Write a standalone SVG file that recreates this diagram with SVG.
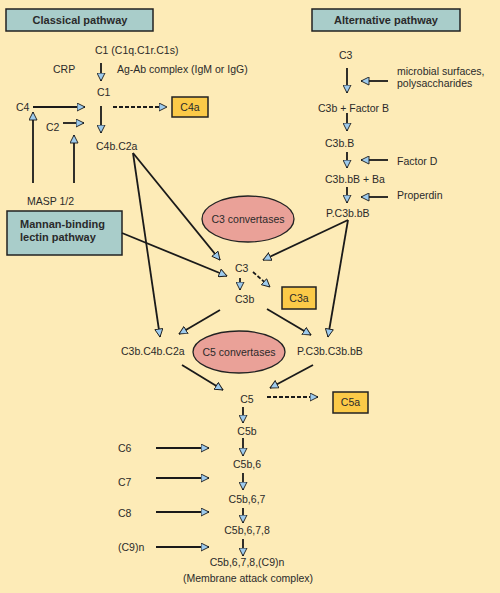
<svg xmlns="http://www.w3.org/2000/svg" width="500" height="593" viewBox="0 0 500 593">
<defs>
<style>
text{font-family:"Liberation Sans","DejaVu Sans",sans-serif;font-size:10.5px;fill:#2a2a2a}
.b{font-weight:bold;font-size:11px}
.m{text-anchor:middle}
.hdr{fill:#a9cdca;stroke:#222;stroke-width:1.5}
.yb{fill:#fbca48;stroke:#222;stroke-width:1.5}
.el{fill:#eaa198;stroke:#222;stroke-width:1.3}
.c line{stroke:#1a1a1a;stroke-width:1.8;marker-end:url(#ah)}
.c line.d{stroke-dasharray:4,2}
</style>
<marker id="ah" viewBox="0 0 9 9" markerUnits="userSpaceOnUse" markerWidth="9" markerHeight="9" refX="8.5" refY="4.5" orient="auto">
<path d="M0.5,0.5 L8.5,4.5 L0.5,8.5 z" fill="#9ecbed" stroke="#1a1a1a" stroke-width="0.9"/>
</marker>
</defs>
<rect width="500" height="593" fill="#fdebb7"/>

<g id="classical-header"><rect class="hdr" x="6" y="9" width="147" height="22"/><text class="b m" x="80" y="24">Classical pathway</text></g>
<g id="alternative-header"><rect class="hdr" x="312" y="9" width="148" height="22"/><text class="b m" x="386" y="24">Alternative pathway</text></g>

<g id="c1q"><text x="95" y="54">C1 (C1q.C1r.C1s)</text></g>
<g id="crp"><text x="53" y="73">CRP</text></g>
<g id="agab"><text x="117" y="73">Ag-Ab complex (IgM or IgG)</text></g>
<g id="c1"><text x="97" y="96">C1</text></g>
<g id="c4"><text x="16" y="111">C4</text></g>
<g id="c2"><text x="46" y="131">C2</text></g>
<g id="c4a"><rect class="yb" x="172" y="97" width="36" height="20"/><text class="m" x="190" y="111">C4a</text></g>
<g id="c4bc2a"><text x="96" y="150">C4b.C2a</text></g>
<g id="masp"><text x="27" y="205">MASP 1/2</text></g>
<g id="mannan"><rect class="hdr" x="7" y="211" width="115" height="44"/><text class="b" x="20" y="228">Mannan-binding</text><text class="b" x="20" y="241">lectin pathway</text></g>
<g id="c3conv"><ellipse class="el" cx="248" cy="219" rx="46" ry="23"/><text class="m" x="248" y="223">C3 convertases</text></g>
<g id="c3"><text x="235" y="272">C3</text></g>
<g id="c3b"><text x="235" y="303">C3b</text></g>
<g id="c3a"><rect class="yb" x="282" y="287" width="34" height="22"/><text class="m" x="299" y="302">C3a</text></g>
<g id="c3bc4bc2a"><text x="121" y="355">C3b.C4b.C2a</text></g>
<g id="pc3bc3bbb"><text x="297" y="355">P.C3b.C3b.bB</text></g>
<g id="c5conv"><ellipse class="el" cx="239" cy="352" rx="46" ry="21"/><text class="m" x="239" y="356">C5 convertases</text></g>
<g id="c5"><text class="m" x="247" y="403">C5</text></g>
<g id="c5a"><rect class="yb" x="333" y="392" width="35" height="21"/><text class="m" x="350.5" y="406">C5a</text></g>
<g id="c5b"><text class="m" x="247" y="435">C5b</text></g>
<g id="c6"><text x="118" y="452">C6</text></g>
<g id="c5b6"><text class="m" x="247" y="468">C5b,6</text></g>
<g id="c7"><text x="118" y="486">C7</text></g>
<g id="c5b67"><text class="m" x="247" y="503">C5b,6,7</text></g>
<g id="c8"><text x="118" y="517">C8</text></g>
<g id="c5b678"><text class="m" x="247" y="534">C5b,6,7,8</text></g>
<g id="c9"><text x="118" y="551">(C9)n</text></g>
<g id="mac"><text class="m" x="247" y="566">C5b,6,7,8,(C9)n</text><text class="m" x="248" y="582">(Membrane attack complex)</text></g>

<g id="alt-c3"><text x="339" y="59">C3</text></g>
<g id="microbial"><text x="397" y="75">microbial surfaces,</text><text x="397" y="87">polysaccharides</text></g>
<g id="c3b-factorb"><text x="318" y="112">C3b + Factor B</text></g>
<g id="c3bB"><text x="325" y="147">C3b.B</text></g>
<g id="factord"><text x="397" y="165">Factor D</text></g>
<g id="c3bbb-ba"><text x="325" y="183">C3b.bB + Ba</text></g>
<g id="properdin"><text x="397" y="199">Properdin</text></g>
<g id="pc3bbb"><text x="326" y="217">P.C3b.bB</text></g>

<g id="connectors" class="c">
<line x1="101" y1="63" x2="101" y2="81"/>
<line x1="33" y1="107" x2="85" y2="107"/>
<line x1="63" y1="123" x2="84" y2="123"/>
<line x1="101" y1="106" x2="101" y2="133"/>
<line class="d" x1="113" y1="107" x2="167" y2="107"/>
<line x1="33" y1="183" x2="33" y2="112"/>
<line x1="74" y1="183" x2="74" y2="135"/>
<line x1="133" y1="153" x2="220" y2="260"/>
<line x1="133" y1="153" x2="160" y2="337"/>
<line x1="122" y1="233" x2="227" y2="276"/>
<line x1="348" y1="220" x2="263" y2="260"/>
<line x1="348" y1="220" x2="328" y2="337"/>
<line x1="240" y1="278" x2="240" y2="290"/>
<line class="d" x1="253" y1="272" x2="270" y2="287"/>
<line x1="220" y1="310" x2="179" y2="334"/>
<line x1="267" y1="309" x2="311" y2="335"/>
<line x1="182" y1="365" x2="223" y2="390"/>
<line x1="313" y1="365" x2="270" y2="388"/>
<line class="d" x1="267" y1="397" x2="318" y2="397"/>
<line x1="243" y1="407" x2="243" y2="423"/>
<line x1="243" y1="438" x2="243" y2="456"/>
<line x1="156" y1="448" x2="209" y2="448"/>
<line x1="243" y1="473" x2="243" y2="490"/>
<line x1="156" y1="478" x2="209" y2="478"/>
<line x1="243" y1="508" x2="243" y2="523"/>
<line x1="156" y1="512" x2="209" y2="512"/>
<line x1="243" y1="539" x2="243" y2="556"/>
<line x1="156" y1="547" x2="209" y2="547"/>
<line x1="347" y1="68" x2="347" y2="93"/>
<line x1="388" y1="81" x2="361" y2="81"/>
<line x1="347" y1="113" x2="347" y2="131"/>
<line x1="347" y1="152" x2="347" y2="168"/>
<line x1="388" y1="160" x2="361" y2="160"/>
<line x1="347" y1="187" x2="347" y2="203"/>
<line x1="388" y1="197" x2="361" y2="197"/>
</g>
</svg>
